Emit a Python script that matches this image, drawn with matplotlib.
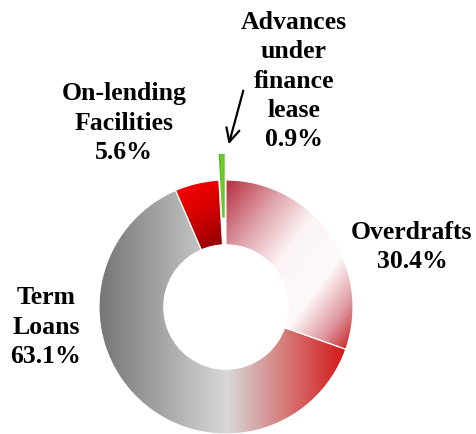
import numpy as np
import matplotlib
matplotlib.use("Agg")
import matplotlib.pyplot as plt
from matplotlib.colors import LinearSegmentedColormap

categories = ["Overdrafts", "Term\nLoans", "On-lending\nFacilities", "Advances\nunder\nfinance\nlease"]
shares = [30.4, 63.1, 5.6, 0.9]

# gradient colour stops per slice (position, colour)
grad_stops = [
    [(0.0, "#b62c3c"), (0.25, "#e0a4ac"), (0.45, "#fcf4f4"), (0.68, "#fefafa"),
     (0.85, "#e09aa2"), (1.0, "#c41a1a")],
    [(0.0, "#767676"), (0.52, "#d8d8d8"), (1.0, "#d41818")],
    [(0.0, "#ff0000"), (0.5, "#d40000"), (1.0, "#880000")],
    [(0.0, "#4fa81a"), (0.5, "#6fd02a"), (1.0, "#5cbc22")],
]

W, H, DPI = 477, 434, 100
CX, CY, R = 226, 307, 127  # donut centre and radius in pixels

fig = plt.figure(figsize=(W / DPI, H / DPI), dpi=DPI)
ax = fig.add_axes([0, 0, 1, 1])

wedges, _ = ax.pie(
    shares,
    startangle=90,
    counterclock=False,
    radius=1.0,
    explode=[0, 0, 0, 0.21],
    wedgeprops=dict(width=0.51, edgecolor="white", linewidth=0.8),
)


def fill_gradient(wedge, stops, mode):
    ext = wedge.get_path().get_extents()
    x0, y0, x1, y1 = ext.x0, ext.y0, ext.x1, ext.y1
    n = 300
    u, v = np.meshgrid(np.linspace(0, 1, n), np.linspace(0, 1, n))  # v: 0 top -> 1 bottom
    if mode == "diag":
        t = (u + v) / 2
    elif mode == "vert":
        t = 0.3 * u + 0.7 * v
    else:
        t = u
    cmap = LinearSegmentedColormap.from_list("g", stops)
    im = ax.imshow(cmap(t), extent=(x0, x1, y0, y1), origin="upper",
                   interpolation="bilinear", zorder=1, aspect="auto")
    im.set_clip_path(wedge)
    wedge.set_facecolor("none")
    wedge.set_zorder(2)


modes = ["diag", "horiz", "vert", "horiz"]
for w, stops, m in zip(wedges, grad_stops, modes):
    fill_gradient(w, stops, m)

ax.set_xlim(-CX / R, (W - CX) / R)
ax.set_ylim(-(H - CY) / R, CY / R)
ax.set_aspect("auto")
ax.axis("off")

font = dict(family="Liberation Serif", fontweight="bold", fontsize=18.5,
            ha="center", va="center", linespacing=1.36)
label_pos = [(412, 247), (46, 327), (124, 123), (294, 81)]
for name, val, (px, py) in zip(categories, shares, label_pos):
    fig.text(px / W, 1 - py / H, f"{name}\n{val:.1f}%", **font)

ax.annotate("", xy=((228 - CX) / R, (CY - 147) / R),
            xytext=((244 - CX) / R, (CY - 88) / R),
            arrowprops=dict(arrowstyle="->", color="black", lw=1.6,
                            mutation_scale=24))

fig.savefig("out.png", dpi=DPI)
